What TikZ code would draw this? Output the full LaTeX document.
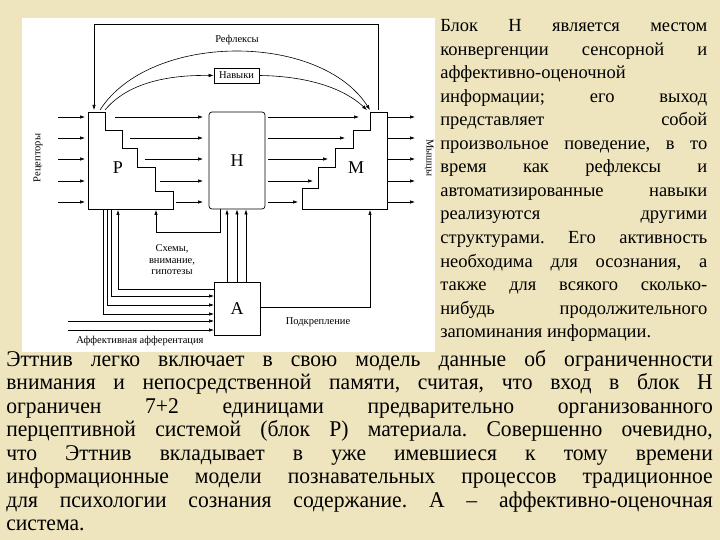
\documentclass[tikz,border=0pt]{standalone}
\usepackage{fontspec}
\setmainfont{Liberation Serif}
\usetikzlibrary{arrows.meta}
\frenchspacing
\definecolor{bg}{RGB}{238,228,190}
\tikzset{ar/.style={-{Latex[length=5pt,width=3.5pt]}},
 blk/.style={draw,line width=0.7pt},
 lab/.style={font=\fontsize{10.5}{11.5}\selectfont,inner sep=1pt},
 rt/.style={anchor=base west,inner sep=0pt,font=\fontsize{18.5}{20}\selectfont},
 bt/.style={anchor=base west,inner sep=0pt,font=\fontsize{22.5}{24}\selectfont}}
\newcommand{\rl}[1]{\makebox[267pt][s]{#1}}
\newcommand{\bl}[1]{\scalebox{0.96}[1]{\makebox[736pt][s]{#1}}}
\begin{document}
\begin{tikzpicture}[x=1pt,y=-1pt,line width=0.6pt]
\fill[bg] (0,0) rectangle (720,540);
\useasboundingbox (0,0) rectangle (720,540);
\fill[white] (22,18) rectangle (435,352);
% blocks
\draw[blk] (88,112)--(105,112)--(105,130)--(122,130)--(122,148)--(137,148)--(137,167)--(155,167)--(155,191)--(173,191)--(173,209)--(88,209)--cycle;
\draw[blk] (387,112)--(370,112)--(370,130)--(353,130)--(353,148)--(335,148)--(335,167)--(318,167)--(318,188)--(302,188)--(302,209)--(387,209)--cycle;
\node[font=\fontsize{18}{19}\selectfont] (P) at (118,168) {P};
\node[font=\fontsize{18}{19}\selectfont] (M) at (356,168) {M};
\node[blk,rounded corners=3pt,minimum width=56pt,minimum height=97pt,font=\fontsize{18}{19}\selectfont] (H) at (237,160.5) {H};
\node[blk,minimum width=46pt,minimum height=53pt,font=\fontsize{18}{19}\selectfont] (A) at (237,308.5) {A};
\node[blk,minimum width=45pt,minimum height=15pt,inner sep=0pt,font=\fontsize{10.5}{11}\selectfont] (N) at (236.5,75.5) {Навыки};
% inputs/outputs
\foreach \y/\s/\e in {117/115/359,138/130/345,159/145/328,181/160/313,202/176/298}{
 \draw[ar] (58,\y)--(85,\y);
 \draw[ar] (\s,\y)--(203,\y);
 \draw[ar] (268,\y)--(\e,\y);
 \draw[ar] (388,\y)--(415,\y);}
\node[lab,rotate=90] (rec) at (38,158) {Рецепторы};
\node[lab,rotate=-90] (mus) at (429,158) {Мышцы};
% top loops
\draw[ar] (378,110)--(378,24)--(94,24)--(94,110);
\draw[ar] (100,110) .. controls (150,32) and (320,32) .. (370,110);
\node[lab] (ref) at (237,40) {Рефлексы};
\draw[ar] (105,110) .. controls (130,80) and (175,75) .. (N.west);
\draw[ar] (N.east) .. controls (300,76) and (340,85) .. (367,110);
% bottom
\foreach \x in {227,237,246}{\draw[ar] (\x,282)--(\x,209.5);}
\draw[ar] (220,209)--(220,232)--(156,232)--(156,210);
\node[lab,align=center] (sch) at (172,260) {Схемы,\\внимание,\\гипотезы};
\draw[ar] (A.west|-0,289)--(118,289)--(118,210);
\draw[ar] (111,209)--(111,296)--(214,296);
\draw[ar] (107,209)--(107,305)--(214,305);
\draw[ar] (103,209)--(103,314)--(214,314);
\draw[ar] (68,321)--(214,321);
\draw[ar] (68,330)--(214,330);
\node[lab] (aff) at (140,341) {Аффективная афферентация};
\draw[ar] (A.east|-0,307)--(370,307)--(370,210);
\node[lab] (pod) at (318,322) {Подкрепление};
% right text
\foreach \i/\t in {0/{Блок Н является местом},1/{конвергенции сенсорной и},3/{информации; его выход},4/{представляет собой},5/{произвольное поведение, в то},6/{время как рефлексы и},7/{автоматизированные навыки},8/{реализуются другими},9/{структурами. Его активность},10/{необходима для осознания, а},11/{также для всякого сколько-},12/{нибудь продолжительного}}
 {\node[rt] (r\i) at (440,32+23.5*\i) {\rl{\t}};}
\node[rt] (r2) at (440,79) {аффективно-оценочной};
\node[rt] (r13) at (440,32+23.5*13) {запоминания информации.};
% bottom text
\foreach \i/\t in {0/{Эттнив легко включает в свою модель данные об ограниченности},1/{внимания и непосредственной памяти, считая, что вход в блок Н},2/{ограничен 7+2 единицами предварительно организованного},3/{перцептивной системой (блок Р) материала. Совершенно очевидно,},4/{что Эттнив вкладывает в уже имевшиеся к тому времени},5/{информационные модели познавательных процессов традиционное},6/{для психологии сознания содержание. А – аффективно-оценочная}}
 {\node[bt] (b\i) at (6,366+23.5*\i) {\bl{\t}};}
\node[bt] (b7) at (6,366+23.5*7) {\scalebox{0.96}[1]{система.}};
\end{tikzpicture}
\end{document}
